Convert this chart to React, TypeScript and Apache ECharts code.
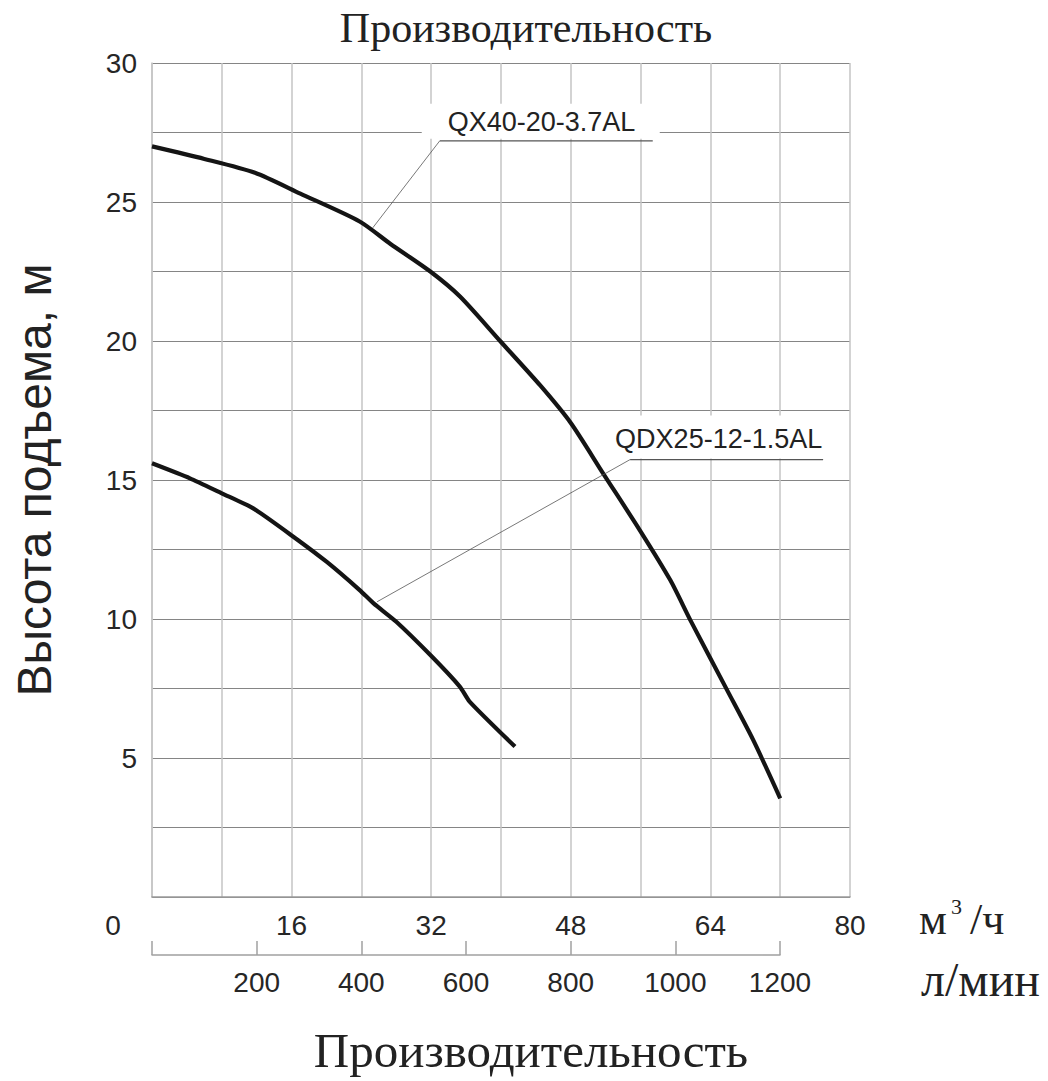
import React, { useEffect, useRef } from 'react';
import * as echarts from 'echarts';

// ---- data ----
const flowTicks = [0, 16, 32, 48, 64, 80]; // m3/h labelled ticks
const lpmTicks = [200, 400, 600, 800, 1000, 1200]; // l/min labelled ticks
const headTicks = [5, 10, 15, 20, 25, 30]; // m labelled ticks

const qx40Name = 'QX40-20-3.7AL';
const qx40Flow = [0, 6, 11.8, 17, 23.8, 27.3, 31.9, 35.3, 39.9, 44.5, 48, 51.7, 55.9, 59.4, 61.7, 65.9, 68.9, 72];
const qx40Head = [27.0, 26.55, 26.05, 25.3, 24.3, 23.5, 22.5, 21.6, 20.0, 18.4, 17.05, 15.24, 13.2, 11.4, 9.96, 7.45, 5.65, 3.55];

const qdxName = 'QDX25-12-1.5AL';
const qdxFlow = [0, 4.35, 8.0, 11.6, 16.2, 20.0, 23.8, 25.4, 28.0, 32.1, 35.3, 36.4, 41.6];
const qdxHead = [15.6, 15.06, 14.52, 13.98, 12.96, 12.06, 11.04, 10.56, 9.9, 8.64, 7.56, 7.03, 5.41];

// callout anchors on the curves (data coords: m3/h, m)
const qx40Anchor = [25.3, 24.07];
const qdxAnchor = [25.8, 10.62];

const SANS = "'Liberation Sans', Arial, sans-serif";
const SERIF = "'Liberation Serif', 'Times New Roman', serif";
const TXT = '#262626';

export default function App() {
  const ref = useRef<HTMLDivElement>(null);

  useEffect(() => {
    const chart = echarts.init(ref.current!, null, { renderer: 'svg' });

    const option: any = {
      animation: false,
      backgroundColor: '#ffffff',
      grid: [
        { left: 152, top: 63, width: 698, height: 834, containLabel: false, outerBoundsMode: 'none' },
        { left: 152, top: 905, width: 628, height: 50, containLabel: false, outerBoundsMode: 'none' },
      ],
      xAxis: [
        {
          gridIndex: 0,
          type: 'value',
          min: 0,
          max: 80,
          interval: 8,
          axisLine: { show: true, lineStyle: { color: '#9a9a9a', width: 1.5 } },
          axisTick: { show: false },
          splitLine: { show: true, lineStyle: { color: '#c4c4c4', width: 1.5 } },
          axisLabel: {
            margin: 14,
            fontSize: 28,
            fontFamily: SANS,
            color: TXT,
            formatter: (v: number) =>
              v === 0 ? '{z|0}' : flowTicks.includes(v) ? String(v) : '',
            rich: {
              z: { fontSize: 28, fontFamily: SANS, color: TXT, padding: [0, 78, 0, 0] },
            },
          },
        },
        {
          gridIndex: 1,
          type: 'value',
          min: 0,
          max: 1200,
          interval: 200,
          axisLine: { show: true, lineStyle: { color: '#a0a0a0', width: 1.5 } },
          axisTick: { show: true, inside: true, length: 14, lineStyle: { color: '#a0a0a0', width: 1.5 } },
          splitLine: { show: false },
          axisLabel: {
            margin: 13,
            fontSize: 28,
            fontFamily: SANS,
            color: TXT,
            formatter: (v: number) => (lpmTicks.includes(v) ? String(v) : ''),
          },
        },
      ],
      yAxis: [
        {
          gridIndex: 0,
          type: 'value',
          min: 0,
          max: 30,
          interval: 2.5,
          name: 'Высота подъема, м',
          nameLocation: 'middle',
          nameRotate: 90,
          nameGap: 94,
          nameTextStyle: { fontSize: 48, fontFamily: SANS, color: '#222' },
          axisLine: { show: true, lineStyle: { color: '#c4c4c4', width: 1.5 } },
          axisTick: { show: false },
          splitLine: { show: true, lineStyle: { color: '#858585', width: 1 } },
          axisLabel: {
            margin: 15,
            fontSize: 28,
            fontFamily: SANS,
            color: TXT,
            formatter: (v: number) => (headTicks.includes(v) ? String(v) : ''),
          },
        },
        { gridIndex: 1, type: 'value', min: 0, max: 1, show: false },
      ],
      series: [
        {
          name: qx40Name,
          type: 'line',
          xAxisIndex: 0,
          yAxisIndex: 0,
          data: qx40Flow.map((q, i) => [q, qx40Head[i]]),
          showSymbol: false,
          smooth: 0.25,
          lineStyle: { color: '#141414', width: 4.2 },
          z: 4,
        },
        {
          name: qdxName,
          type: 'line',
          xAxisIndex: 0,
          yAxisIndex: 0,
          data: qdxFlow.map((q, i) => [q, qdxHead[i]]),
          showSymbol: false,
          smooth: 0.2,
          lineStyle: { color: '#141414', width: 4.2 },
          z: 4,
        },
      ],
    };

    chart.setOption(option);

    const callouts = [
      { text: qx40Name, anchor: qx40Anchor, elbow: [67, -87], underline: 213, textDx: 8, textDy: -19, mask: [-18, -37, 238, 35] },
      { text: qdxName, anchor: qdxAnchor, elbow: [253, -142.2], underline: 193, textDx: -15, textDy: -21, mask: [-30, -44, 230, 43] },
    ];

    const graphic: any[] = [];
    callouts.forEach((c) => {
      const p = chart.convertToPixel({ gridIndex: 0 }, c.anchor) as number[];
      const ex = p[0] + c.elbow[0];
      const ey = p[1] + c.elbow[1];
      graphic.push({
        type: 'rect',
        shape: { x: ex + c.mask[0], y: ey + c.mask[1], width: c.mask[2], height: c.mask[3] },
        style: { fill: '#ffffff' },
        z: 1,
      });
      graphic.push({
        type: 'line',
        shape: { x1: p[0], y1: p[1], x2: ex, y2: ey },
        style: { stroke: '#555', lineWidth: 0.8 },
        z: 5,
      });
      graphic.push({
        type: 'line',
        shape: { x1: ex, y1: ey, x2: ex + c.underline, y2: ey },
        style: { stroke: '#555', lineWidth: 1.2 },
        z: 5,
      });
      graphic.push({
        type: 'text',
        x: ex + c.textDx,
        y: ey + c.textDy,
        style: {
          text: c.text,
          fontSize: 27,
          fontFamily: SANS,
          fill: '#222',
          align: 'left',
          verticalAlign: 'middle',
        },
        z: 6,
      });
    });

    const txt = (text: string, x: number, y: number, size: number, family: string, align = 'left') => ({
      type: 'text',
      x,
      y,
      style: { text, fontSize: size, fontFamily: family, fill: '#222', align, verticalAlign: 'middle' },
      z: 6,
    });

    graphic.push(txt('Производительность', 526, 28, 42, SERIF, 'center'));
    graphic.push(txt('Производительность', 531, 1050, 49, SERIF, 'center'));
    graphic.push(txt('м', 919, 919, 44, SERIF));
    graphic.push(txt('3', 951, 906, 22, SERIF));
    graphic.push(txt('/ч', 970, 919, 44, SERIF));
    graphic.push(txt('л/мин', 921, 979, 48, SERIF));

    chart.setOption({ graphic });

    return () => chart.dispose();
  }, []);

  return (
    <div
      ref={ref}
      style={{ position: 'absolute', left: 0, top: 0, width: 1048, height: 1081, background: '#fff' }}
    />
  );
}
